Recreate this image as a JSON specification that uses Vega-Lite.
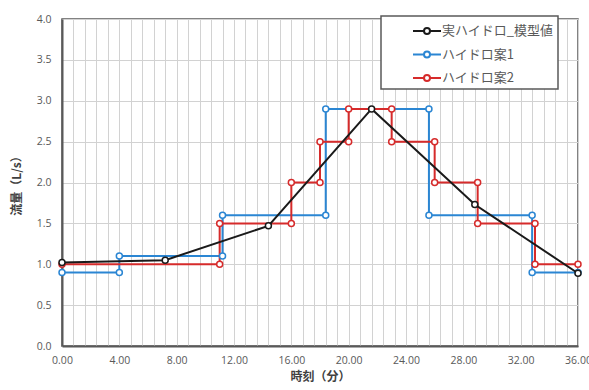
{
  "$schema": "https://vega.github.io/schema/vega-lite/v6.json",
  "width": 516,
  "height": 327,
  "autosize": {"type": "none"},
  "padding": {"left": 62, "top": 19, "right": 11, "bottom": 44},
  "background": "white",
  "config": {
    "view": {"stroke": "#595959", "strokeWidth": 1.5},
    "axis": {
      "ticks": false,
      "grid": true,
      "gridColor": "#d2d2d2",
      "gridWidth": 1,
      "domainColor": "#595959",
      "domainWidth": 2,
      "labelFont": "Open Sans",
      "labelFontSize": 10.5,
      "labelColor": "#595959",
      "labelOverlap": false,
      "labelFlush": false,
      "titleFont": "Noto Sans CJK JP",
      "titleFontSize": 12,
      "titleFontWeight": "bold",
      "titleColor": "#404040"
    }
  },
  "datasets": {
    "model": [
      {"t": 0, "q": 1.02, "series": "実ハイドロ_模型値"},
      {"t": 7.2, "q": 1.05, "series": "実ハイドロ_模型値"},
      {"t": 14.4, "q": 1.47, "series": "実ハイドロ_模型値"},
      {"t": 21.6, "q": 2.9, "series": "実ハイドロ_模型値"},
      {"t": 28.8, "q": 1.73, "series": "実ハイドロ_模型値"},
      {"t": 36, "q": 0.89, "series": "実ハイドロ_模型値"}
    ],
    "plans": [
      {"t": 0, "q": 0.9, "series": "ハイドロ案1"},
      {"t": 4, "q": 0.9, "series": "ハイドロ案1"},
      {"t": 4, "q": 1.1, "series": "ハイドロ案1"},
      {"t": 11.2, "q": 1.1, "series": "ハイドロ案1"},
      {"t": 11.2, "q": 1.6, "series": "ハイドロ案1"},
      {"t": 18.4, "q": 1.6, "series": "ハイドロ案1"},
      {"t": 18.4, "q": 2.9, "series": "ハイドロ案1"},
      {"t": 25.6, "q": 2.9, "series": "ハイドロ案1"},
      {"t": 25.6, "q": 1.6, "series": "ハイドロ案1"},
      {"t": 32.8, "q": 1.6, "series": "ハイドロ案1"},
      {"t": 32.8, "q": 0.9, "series": "ハイドロ案1"},
      {"t": 36, "q": 0.9, "series": "ハイドロ案1"},
      {"t": 0, "q": 1.0, "series": "ハイドロ案2"},
      {"t": 11, "q": 1.0, "series": "ハイドロ案2"},
      {"t": 11, "q": 1.5, "series": "ハイドロ案2"},
      {"t": 16, "q": 1.5, "series": "ハイドロ案2"},
      {"t": 16, "q": 2.0, "series": "ハイドロ案2"},
      {"t": 18, "q": 2.0, "series": "ハイドロ案2"},
      {"t": 18, "q": 2.5, "series": "ハイドロ案2"},
      {"t": 20, "q": 2.5, "series": "ハイドロ案2"},
      {"t": 20, "q": 2.9, "series": "ハイドロ案2"},
      {"t": 23, "q": 2.9, "series": "ハイドロ案2"},
      {"t": 23, "q": 2.5, "series": "ハイドロ案2"},
      {"t": 26, "q": 2.5, "series": "ハイドロ案2"},
      {"t": 26, "q": 2.0, "series": "ハイドロ案2"},
      {"t": 29, "q": 2.0, "series": "ハイドロ案2"},
      {"t": 29, "q": 1.5, "series": "ハイドロ案2"},
      {"t": 33, "q": 1.5, "series": "ハイドロ案2"},
      {"t": 33, "q": 1.0, "series": "ハイドロ案2"},
      {"t": 36, "q": 1.0, "series": "ハイドロ案2"}
    ]
  },
  "encoding": {
    "x": {
      "field": "t",
      "type": "quantitative",
      "scale": {"domain": [0, 36], "nice": false, "zero": false},
      "axis": {
        "title": "時刻（分）",
        "values": [0, 0.8, 1.6, 2.4, 3.2, 4, 4.8, 5.6, 6.4, 7.2, 8, 8.8, 9.6, 10.4, 11.2, 12, 12.8, 13.6, 14.4, 15.2, 16, 16.8, 17.6, 18.4, 19.2, 20, 20.8, 21.6, 22.4, 23.2, 24, 24.8, 25.6, 26.4, 27.2, 28, 28.8, 29.6, 30.4, 31.2, 32, 32.8, 33.6, 34.4, 35.2, 36],
        "labelExpr": "abs(datum.value / 4 - round(datum.value / 4)) < 0.001 ? format(datum.value, '.2f') : ''",
        "labelPadding": 9,
        "titlePadding": 6
      }
    },
    "y": {
      "field": "q",
      "type": "quantitative",
      "scale": {"domain": [0, 4], "nice": false},
      "axis": {
        "title": "流量（L/s）",
        "values": [0, 0.5, 1, 1.5, 2, 2.5, 3, 3.5, 4],
        "format": ".1f",
        "labelPadding": 11,
        "titlePadding": 13
      }
    },
    "color": {
      "field": "series",
      "type": "nominal",
      "scale": {
        "domain": ["実ハイドロ_模型値", "ハイドロ案1", "ハイドロ案2"],
        "range": ["#1a1a1a", "#2B86D3", "#D62B2B"]
      },
      "legend": {
        "title": null,
        "orient": "none",
        "legendX": 319,
        "legendY": -3,
        "fillColor": "white",
        "strokeColor": "#595959",
        "padding": 4,
        "symbolOffset": 31,
        "symbolType": "M-1.4,0L-0.3,0M0.3,0L1.4,0M-0.3,0A0.3,0.3 0 1,1 0.3,0A0.3,0.3 0 1,1 -0.3,0",
        "symbolSize": 400,
        "symbolStrokeWidth": 2,
        "symbolFillColor": "white",
        "labelFont": "Noto Sans CJK JP",
        "labelFontSize": 13,
        "labelColor": "#595959",
        "labelOffset": 4,
        "labelLimit": 400,
        "rowPadding": 5.5,
        "encode": {
          "legend": {"update": {"strokeWidth": {"value": 1.5}, "width": {"value": 215}}},
          "symbols": {"update": {"fill": {"value": "white"}, "strokeWidth": {"value": 2}}}
        }
      }
    }
  },
  "layer": [
    {
      "data": {"name": "plans"},
      "mark": {
        "type": "line",
        "strokeWidth": 2,
        "point": {"filled": false, "fill": "white", "size": 36, "strokeWidth": 1.5}
      }
    },
    {
      "data": {"name": "model"},
      "mark": {
        "type": "line",
        "strokeWidth": 2,
        "point": {"filled": false, "fill": "white", "size": 36, "strokeWidth": 1.5}
      }
    }
  ]
}
